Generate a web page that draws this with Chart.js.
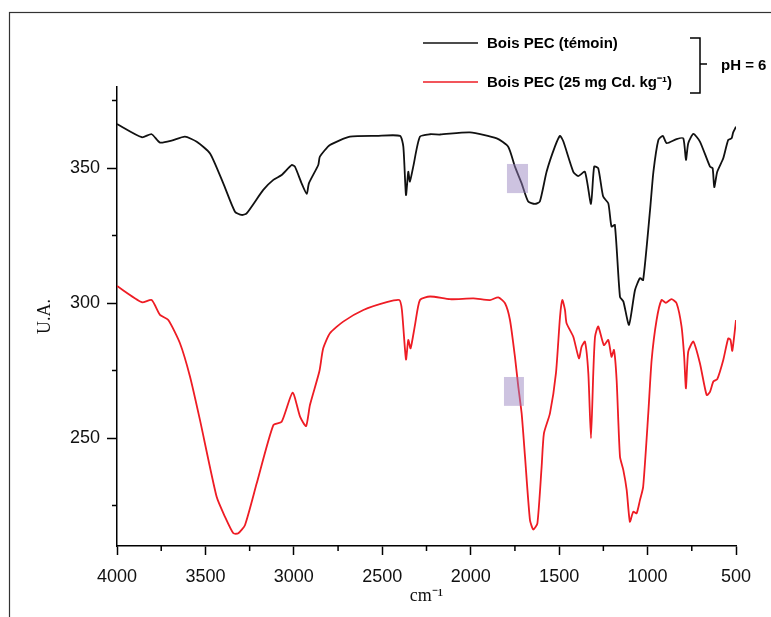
<!DOCTYPE html>
<html>
<head>
<meta charset="utf-8">
<script src="https://cdn.jsdelivr.net/npm/chart.js@4/dist/chart.umd.min.js"></script>
<style>
  html, body { margin: 0; padding: 0; background: #ffffff; }
  canvas { display: block; }
</style>
</head>
<body>
<canvas id="c" width="771" height="617"></canvas>
<script>
// ---- Data ----
const xTicks = [4000, 3500, 3000, 2500, 2000, 1500, 1000, 500];
const xMinorTicks = [3750, 3250, 2750, 2250, 1750, 1250, 750];
const yTicks = [250, 300, 350];
const yMinorTicks = [225, 275, 325, 375];

const seriesLabels = ["Bois PEC (témoin)", "Bois PEC (25 mg Cd. kg\u207B\u00B9)"];
const groupLabel = "pH = 6";
const xTitle = "cm\u207B\u00B9";
const yTitle = "U.A.";

const blackWavenumbers = [4000,3860,3804,3757,3691,3616,3549,3474,3399,3333,3295,3267,3173,3116,3069,3012,2994,2956,2927,2915,2862,2853,2796,2683,2532,2400,2381,2366,2353,2344,2325,2287,2230,2174,2004,1853,1788,1750,1712,1675,1637,1609,1571,1524,1495,1476,1420,1392,1354,1320,1302,1279,1251,1222,1204,1185,1156,1137,1105,1071,1043,1025,986,967,939,914,892,836,798,783,770,741,704,647,632,623,606,572,544,525,516,500];
const blackValues = [366.3,361.4,362.5,359.4,360.1,361.6,359.7,355.4,344.3,333.8,332.6,333.2,341.9,345.6,347.4,351.1,350.5,344.3,340.4,344.3,351.1,354.2,358.5,361.6,361.9,361.9,357.9,340,348.6,345,350.5,361.6,362.5,362.4,363.2,361,357.9,350.5,344.3,337.6,336.7,337.6,348.6,357.9,361.9,359.8,348.6,347,348.6,336.7,350.5,349.9,339.4,336.9,328.3,328.9,302.3,300.6,291.9,304.8,309.2,308.5,334.4,348.6,360.4,361.9,359.2,360.7,361,353,359.2,362.6,359.8,350.5,349.9,342.9,348.6,353.6,360.4,361,363.2,365.3];

const redWavenumbers = [4000,3860,3804,3757,3710,3644,3587,3531,3437,3390,3342,3314,3276,3210,3116,3069,3007,2965,2931,2909,2856,2834,2796,2721,2607,2475,2404,2389,2366,2353,2340,2315,2287,2230,2117,1985,1891,1844,1806,1778,1750,1731,1712,1693,1665,1646,1623,1599,1586,1552,1518,1495,1482,1467,1458,1420,1388,1373,1354,1335,1320,1307,1297,1279,1247,1222,1204,1190,1175,1156,1137,1118,1100,1081,1062,1043,1025,996,977,949,921,897,865,836,808,793,783,770,741,704,666,647,628,606,572,544,531,521,500];
const redValues = [306.3,300.3,301.1,295.6,293.7,285.1,272.7,256.7,228.3,220.9,214.7,214.7,217.8,233.2,254.8,256,266.8,257.9,254.4,262.2,274.6,283.2,288.8,293.1,297.4,300.3,301.1,297.4,279.1,286.3,283.2,291.9,301.1,302.4,301.4,301.7,301.1,302.1,299.9,293.7,280.1,269,259.1,243.1,219.6,216.1,218.4,239.4,251.7,259.1,274,294.9,301.1,297.4,292.5,287.5,279.5,283.8,285.7,274,249.9,274,287.5,291.3,284.4,286.3,280.1,282.6,271.5,243.1,238.1,230.7,219,222.7,222.1,227,231.9,259.1,278.9,293.7,301.1,300.1,301.4,299.9,291.3,280.1,268.4,282,285.7,277.7,265.9,267.1,270.9,271.8,278.9,286.9,286.3,282.3,293.7];

// highlighted bands: [x from, x to, y from, y to] in data units
const highlightBoxes = [
  [1795, 1676, 351.5, 340.7],
  [1812, 1699, 272.6, 261.9]
];

const seriesColors = ["#111111", "#ee1c24"];

function zip(xs, ys) { return xs.map((x, i) => ({ x: x, y: ys[i] })); }

// ---- Plugins ----
const framePlugin = {
  id: 'frame',
  beforeDraw(chart) {
    const ctx = chart.ctx;
    ctx.save();
    ctx.fillStyle = '#ffffff';
    ctx.fillRect(0, 0, chart.width, chart.height);
    ctx.strokeStyle = '#333333';
    ctx.lineWidth = 1.2;
    ctx.strokeRect(9.5, 12.5, chart.width + 20, chart.height + 20);
    ctx.restore();
  }
};

const minorTicksPlugin = {
  id: 'minorTicks',
  afterDraw(chart) {
    const ctx = chart.ctx;
    const xs = chart.scales.x, ys = chart.scales.y;
    ctx.save();
    ctx.strokeStyle = '#000';
    ctx.lineWidth = 1.5;
    ctx.beginPath();
    yMinorTicks.forEach(v => {
      const p = ys.getPixelForValue(v);
      ctx.moveTo(chart.chartArea.left - 5, p);
      ctx.lineTo(chart.chartArea.left, p);
    });
    xMinorTicks.forEach(v => {
      const p = xs.getPixelForValue(v);
      ctx.moveTo(p, chart.chartArea.bottom);
      ctx.lineTo(p, chart.chartArea.bottom + 5);
    });
    ctx.stroke();
    ctx.restore();
  }
};

const highlightPlugin = {
  id: 'highlight',
  afterDatasetsDraw(chart) {
    const ctx = chart.ctx;
    const xs = chart.scales.x, ys = chart.scales.y;
    ctx.save();
    ctx.fillStyle = 'rgba(150,130,190,0.48)';
    highlightBoxes.forEach(b => {
      const x1 = xs.getPixelForValue(b[0]), x2 = xs.getPixelForValue(b[1]);
      const y1 = ys.getPixelForValue(b[2]), y2 = ys.getPixelForValue(b[3]);
      ctx.fillRect(Math.min(x1, x2), Math.min(y1, y2), Math.abs(x2 - x1), Math.abs(y2 - y1));
    });
    ctx.restore();
  }
};

const legendPlugin = {
  id: 'customLegend',
  afterDraw(chart) {
    const ctx = chart.ctx;
    ctx.save();
    const rows = [43, 82];
    ctx.font = 'bold 15px "Liberation Sans", Arial, sans-serif';
    ctx.textBaseline = 'middle';
    ctx.textAlign = 'left';
    chart.data.datasets.forEach((ds, i) => {
      const y = rows[i];
      ctx.strokeStyle = ds.borderColor;
      ctx.lineWidth = 1.6;
      ctx.beginPath();
      ctx.moveTo(423, y);
      ctx.lineTo(478, y);
      ctx.stroke();
      ctx.fillStyle = '#000';
      ctx.fillText(ds.label, 487, y + 1);
    });
    // bracket
    ctx.strokeStyle = '#000';
    ctx.lineWidth = 1.5;
    ctx.beginPath();
    ctx.moveTo(690, 38);
    ctx.lineTo(700, 38);
    ctx.lineTo(700, 93);
    ctx.lineTo(690, 93);
    ctx.moveTo(700, 64);
    ctx.lineTo(707, 64);
    ctx.stroke();
    ctx.fillStyle = '#000';
    ctx.fillText(groupLabel, 721, 66);
    ctx.restore();
  }
};

// ---- Chart ----
new Chart(document.getElementById('c'), {
  type: 'line',
  data: {
    datasets: [
      { label: seriesLabels[0], data: zip(blackWavenumbers, blackValues), borderColor: seriesColors[0], borderWidth: 1.8, pointRadius: 0, tension: 0.2, fill: false },
      { label: seriesLabels[1], data: zip(redWavenumbers, redValues), borderColor: seriesColors[1], borderWidth: 1.8, pointRadius: 0, tension: 0.2, fill: false }
    ]
  },
  options: {
    responsive: false,
    animation: false,
    devicePixelRatio: 1,
    layout: { padding: { left: 0, top: 87, right: 35, bottom: 0 } },
    plugins: { legend: { display: false }, tooltip: { enabled: false } },
    scales: {
      x: {
        type: 'linear',
        min: 500, max: 4000,
        reverse: true,
        afterBuildTicks(scale) { scale.ticks = xTicks.map(v => ({ value: v })); },
        afterFit(scale) { scale.height = 71; },
        border: { display: true, color: '#000', width: 1.5 },
        grid: { display: true, drawOnChartArea: false, drawTicks: true, tickLength: 9, tickColor: '#000', tickWidth: 1.5 },
        ticks: { color: '#111', font: { family: '"Liberation Sans", Arial, sans-serif', size: 18 }, padding: 11, maxRotation: 0, autoSkip: false, callback: v => String(v) },
        title: { display: true, text: xTitle, color: '#111', font: { family: '"Liberation Serif", "Times New Roman", serif', size: 18 }, padding: { top: 0, bottom: 10 } }
      },
      y: {
        type: 'linear',
        min: 210, max: 380,
        afterBuildTicks(scale) { scale.ticks = yTicks.map(v => ({ value: v })); },
        afterFit(scale) { scale.width = 117; },
        border: { display: true, color: '#000', width: 1.5 },
        grid: { display: true, drawOnChartArea: false, drawTicks: true, tickLength: 10, tickColor: '#000', tickWidth: 1.5 },
        ticks: { color: '#111', font: { family: '"Liberation Sans", Arial, sans-serif', size: 18 }, padding: 7, callback: v => String(v) },
        title: { display: true, text: yTitle, color: '#111', font: { family: '"Liberation Serif", "Times New Roman", serif', size: 18 }, padding: { top: 34, bottom: 0 } }
      }
    }
  },
  plugins: [framePlugin, highlightPlugin, minorTicksPlugin, legendPlugin]
});
</script>
</body>
</html>
